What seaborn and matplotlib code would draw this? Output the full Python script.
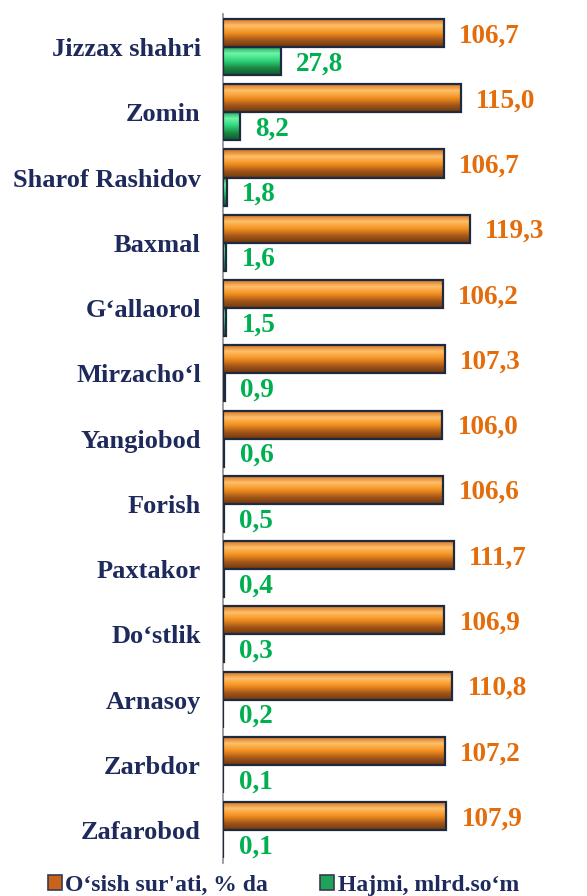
import matplotlib
matplotlib.use('Agg')
import matplotlib.pyplot as plt
import numpy as np
import pandas as pd
import seaborn as sns
from matplotlib.colors import LinearSegmentedColormap
from matplotlib.patches import Patch

districts = ['Jizzax shahri', 'Zomin', 'Sharof Rashidov', 'Baxmal', 'G‘allaorol',
             'Mirzacho‘l', 'Yangiobod', 'Forish', 'Paxtakor', 'Do‘stlik',
             'Arnasoy', 'Zarbdor', 'Zafarobod']
growth = [106.7, 115.0, 106.7, 119.3, 106.2, 107.3, 106.0, 106.6, 111.7, 106.9, 110.8, 107.2, 107.9]
volume = [27.8, 8.2, 1.8, 1.6, 1.5, 0.9, 0.6, 0.5, 0.4, 0.3, 0.2, 0.1, 0.1]
series = ["O‘sish sur'ati, % da", 'Hajmi, mlrd.so‘m']

navy = '#1F2A5C'
orange_txt = '#E46C0A'
green_txt = '#00B050'

df = pd.DataFrame({
    'district': districts * 2,
    'value': growth + volume,
    'series': [series[0]] * len(districts) + [series[1]] * len(districts),
})

sns.set_style('white')
plt.rcParams['font.family'] = ['Liberation Serif', 'DejaVu Serif']
plt.rcParams['font.weight'] = 'bold'

fig = plt.figure(figsize=(5.87, 8.96), dpi=100)
ax = fig.add_axes([0.38, 0.037, 0.62, 0.947])

sns.barplot(data=df, y='district', x='value', hue='series', orient='h',
            order=districts, hue_order=series, width=0.86, ax=ax,
            palette=['#F08A20', '#2ED47A'], legend=False, errorbar=None)

ax.set_xlim(0, 176)
ylim = ax.get_ylim()
xlim = ax.get_xlim()

cm_orange = LinearSegmentedColormap.from_list('o', ['#D06A18', '#FFC06A', '#F5921F', '#A8581A', '#6E380E'])
cm_green = LinearSegmentedColormap.from_list('g', ['#1A9A55', '#6FF5A8', '#30D67C', '#1B8A45', '#0E5A30'])
grad = np.linspace(0, 1, 64).reshape(-1, 1)

n = len(districts)
bars = list(ax.patches)
for i, p in enumerate(bars):
    cm = cm_orange if i < n else cm_green
    x, y = p.get_x(), p.get_y()
    w, h = p.get_width(), p.get_height()
    im = ax.imshow(grad, cmap=cm, aspect='auto', origin='upper',
                   extent=(x, x + w, y + h, y), zorder=2)
    im.set_clip_path(p)
    p.set_facecolor('none')
    p.set_edgecolor('#1E2A40')
    p.set_linewidth(1.6)
    p.set_zorder(3)

ax.set_xlim(xlim)
ax.set_ylim(ylim)

# value labels
for i, p in enumerate(bars):
    val = p.get_width()
    txt = f'{val:.1f}'.replace('.', ',')
    yc = p.get_y() + p.get_height() / 2
    col = orange_txt if i < n else green_txt
    ax.annotate(txt, (val, yc), xytext=(11, -2), textcoords='offset points',
                ha='left', va='center', color=col, fontsize=19.5,
                fontweight='bold', annotation_clip=False)

ax.set_xlabel('')
ax.set_ylabel('')
ax.set_xticks([])
ax.set_yticks(range(n))
ax.set_yticklabels(districts, color=navy, fontsize=19, fontweight='bold')
ax.tick_params(axis='y', which='major', length=0, pad=16)
ax.set_yticks(np.arange(n + 1) - 0.5, minor=True)
ax.tick_params(axis='y', which='minor', length=6, width=1.2, color='#8C8C8C', direction='out')
for s in ['top', 'right', 'bottom']:
    ax.spines[s].set_visible(False)
ax.spines['left'].set_color('#8C8C8C')
ax.spines['left'].set_linewidth(1.2)

handles = [Patch(facecolor='#C8641A', edgecolor='#3A3A50', linewidth=1.2),
           Patch(facecolor='#1FA35A', edgecolor='#3A3A50', linewidth=1.2)]
fig.legend(handles, series, loc='center left', bbox_to_anchor=(0.045, 0.012),
           ncol=2, frameon=False, handlelength=0.6, handleheight=0.6,
           handletextpad=0.15, columnspacing=2.2,
           prop={'size': 17, 'weight': 'bold'}, labelcolor=navy)

fig.savefig('out.png', dpi=100)
